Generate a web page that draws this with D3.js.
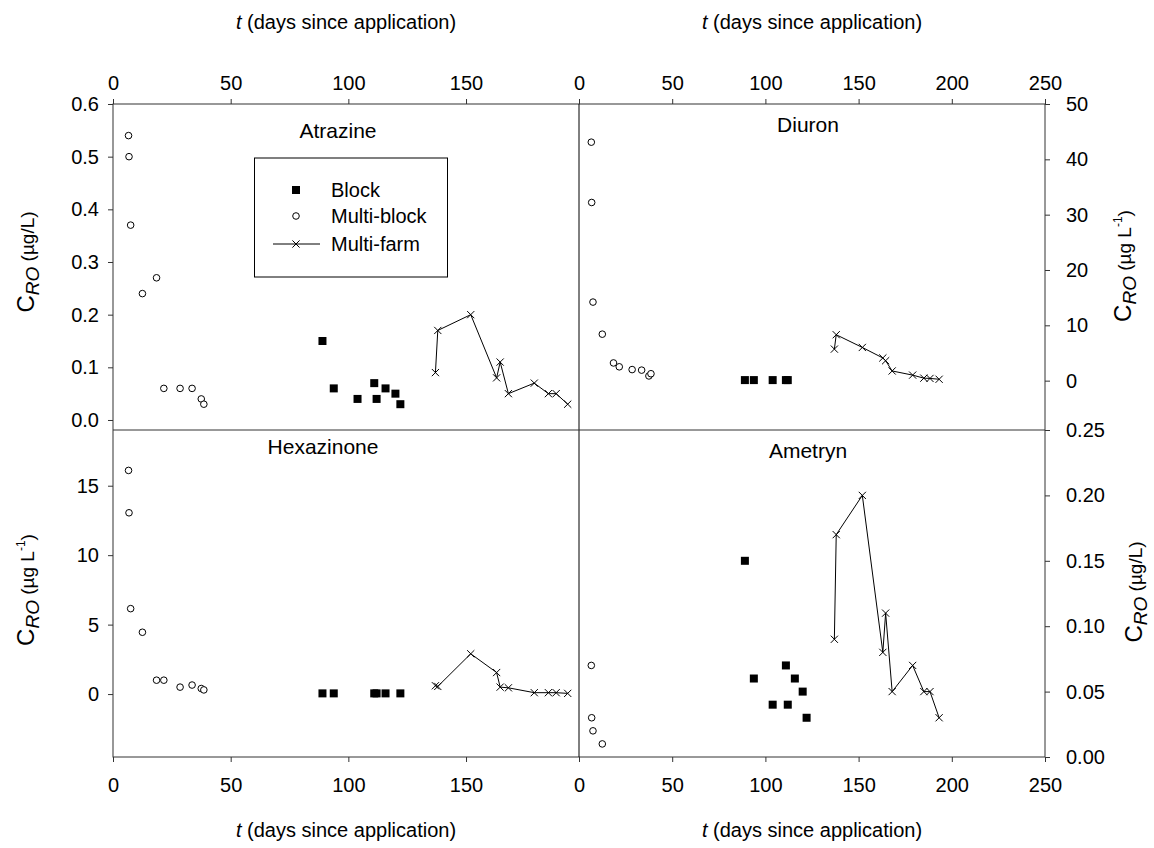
<!DOCTYPE html>
<html>
<head>
<meta charset="utf-8">
<script src="https://cdn.jsdelivr.net/npm/d3@7"></script>
<style>
body { margin: 0; background: #fff; }
text { font-family: "Liberation Sans", Arial, sans-serif; fill: #000; }
</style>
</head>
<body>
<script>
var w = 1154;
var h = 848;

// sampling days (days since application), same for every herbicide
var blockDays      = [89, 93.8, 103.9, 111, 112, 115.8, 120, 122.1];
var multiBlockDays = [6.6, 6.8, 7.5, 12.5, 18.5, 21.6, 28.5, 33.6, 37.5, 38.6];
var multiFarmDays  = [137, 138, 152, 163, 164.5, 168, 179, 185, 188.3, 193.2];

// Atrazine (ug/L)
var atrazineBlock      = [0.15, 0.06, 0.04, 0.07, 0.04, 0.06, 0.05, 0.03];
var atrazineMultiBlock = [0.54, 0.50, 0.37, 0.24, 0.27, 0.06, 0.06, 0.06, 0.04, 0.03];
var atrazineMultiFarm  = [0.09, 0.17, 0.20, 0.08, 0.11, 0.05, 0.07, 0.05, 0.05, 0.03];

// Diuron (ug L-1)
var diuronBlock      = [0.1, 0.1, 0.1, 0.1, 0.1, null, null, null];
var diuronMultiBlock = [43.1, 32.2, 14.2, 8.4, 3.2, 2.5, 2.0, 1.9, 0.85, 1.25];
var diuronMultiFarm  = [5.7, 8.3, 6.0, 4.1, 3.6, 1.75, 1.0, 0.45, 0.4, 0.25];

// Hexazinone (ug L-1)
var hexazinoneBlock      = [0.05, 0.05, null, 0.05, 0.05, 0.05, null, 0.05];
var hexazinoneMultiBlock = [16.1, 13.05, 6.15, 4.45, 1.0, 1.0, 0.5, 0.65, 0.4, 0.3];
var hexazinoneMultiFarm  = [0.6, 0.55, 2.9, 1.55, 0.5, 0.45, 0.1, 0.1, 0.1, 0.05];

// Ametryn (ug/L)
var ametrynBlock      = [0.15, 0.06, 0.04, 0.07, 0.04, 0.06, 0.05, 0.03];
var ametrynMultiBlock = [0.07, 0.03, 0.02, 0.01, null, null, null, null, null, null];
var ametrynMultiFarm  = [0.09, 0.17, 0.20, 0.08, 0.11, 0.05, 0.07, 0.05, 0.05, 0.03];

// tick labels
var leftDayTicks  = [0, 50, 100, 150];
var rightDayTicks = [0, 50, 100, 150, 200, 250];
var atrazineTicks   = [0, 0.1, 0.2, 0.3, 0.4, 0.5, 0.6];
var diuronTicks     = [0, 10, 20, 30, 40, 50];
var hexazinoneTicks = [0, 5, 10, 15];
var ametrynTicks    = [0, 0.05, 0.1, 0.15, 0.2, 0.25];

var legendLabels = ["Block", "Multi-block", "Multi-farm"];

// frame
var x0 = 113, xMid = 579, x1 = 1045;
var y0 = 104, yMid = 430, y1 = 757;
var frameColor = "#333";

var svg = d3.select("body")
            .append("svg")
            .attr("width", w)
            .attr("height", h);

var xLeft  = d3.scaleLinear().domain([0, 198]).range([x0, xMid]);
var xRight = d3.scaleLinear().domain([0, 250]).range([xMid, x1]);

var yAtrazine   = d3.scaleLinear().domain([-0.019, 0.6]).range([yMid, y0]);
var yDiuron     = d3.scaleLinear().domain([-8.92, 50]).range([yMid, y0]);
var yHexazinone = d3.scaleLinear().domain([-4.53, 19.01]).range([y1, yMid]);
var yAmetryn    = d3.scaleLinear().domain([0, 0.25]).range([y1, yMid]);

var panels = [
    {name: "Atrazine", x: xLeft, y: yAtrazine, tx: 338, ty: 138,
     block: atrazineBlock, multiBlock: atrazineMultiBlock, multiFarm: atrazineMultiFarm},
    {name: "Diuron", x: xRight, y: yDiuron, tx: 808, ty: 132,
     block: diuronBlock, multiBlock: diuronMultiBlock, multiFarm: diuronMultiFarm},
    {name: "Hexazinone", x: xLeft, y: yHexazinone, tx: 323, ty: 454,
     block: hexazinoneBlock, multiBlock: hexazinoneMultiBlock, multiFarm: hexazinoneMultiFarm},
    {name: "Ametryn", x: xRight, y: yAmetryn, tx: 808, ty: 458,
     block: ametrynBlock, multiBlock: ametrynMultiBlock, multiFarm: ametrynMultiFarm}
];

var crossPath = "M-3.6,-3.6L3.6,3.6M-3.6,3.6L3.6,-3.6";

// AXES ========================================

function styleAxis(g) {
    g.select(".domain").remove();
    g.selectAll(".tick line").attr("stroke", frameColor);
    g.selectAll(".tick text")
        .attr("font-family", "Liberation Sans, Arial, sans-serif")
        .attr("font-size", "20px")
        .attr("fill", "#000");
}

function addAxis(axis, tx, ty) {
    svg.append("g")
        .attr("transform", "translate(" + tx + "," + ty + ")")
        .call(axis)
        .call(styleAxis);
}

addAxis(d3.axisTop(xLeft).tickValues(leftDayTicks).tickSize(5).tickPadding(9), 0, y0);
addAxis(d3.axisTop(xRight).tickValues(rightDayTicks).tickSize(5).tickPadding(9), 0, y0);
addAxis(d3.axisBottom(xLeft).tickValues(leftDayTicks).tickSize(5).tickPadding(16), 0, y1);
addAxis(d3.axisBottom(xRight).tickValues(rightDayTicks).tickSize(5).tickPadding(16), 0, y1);

addAxis(d3.axisLeft(yAtrazine).tickValues(atrazineTicks).tickFormat(d3.format(".1f"))
    .tickSize(5).tickPadding(9), x0, 0);
addAxis(d3.axisLeft(yHexazinone).tickValues(hexazinoneTicks).tickFormat(d3.format("d"))
    .tickSize(5).tickPadding(9), x0, 0);
addAxis(d3.axisRight(yDiuron).tickValues(diuronTicks).tickFormat(d3.format("d"))
    .tickSize(5).tickPadding(16), x1, 0);
addAxis(d3.axisRight(yAmetryn).tickValues(ametrynTicks).tickFormat(d3.format(".2f"))
    .tickSize(5).tickPadding(16), x1, 0);

// frame lines
svg.append("rect")
    .attr("x", x0).attr("y", y0)
    .attr("width", x1 - x0).attr("height", y1 - y0)
    .attr("fill", "none")
    .attr("stroke", frameColor);
svg.append("line")
    .attr("x1", xMid).attr("x2", xMid).attr("y1", y0).attr("y2", y1)
    .attr("stroke", "#000");
svg.append("line")
    .attr("x1", x0).attr("x2", x1).attr("y1", yMid).attr("y2", yMid)
    .attr("stroke", frameColor);

// DRAWING =====================================

function points(days, values) {
    return days.map(function(d, i) {
        return {t: d, v: values[i]};
    }).filter(function(d) { return d.v != null; });
}

function drawPanel(p) {
    var g = svg.append("g");

    g.append("text")
        .attr("x", p.tx)
        .attr("y", p.ty)
        .attr("text-anchor", "middle")
        .attr("font-size", "21px")
        .text(p.name);

    var farm = points(multiFarmDays, p.multiFarm);
    var line = d3.line()
        .x(function(d) { return p.x(d.t); })
        .y(function(d) { return p.y(d.v); });

    g.append("path")
        .datum(farm)
        .attr("d", line)
        .attr("fill", "none")
        .attr("stroke", "#000")
        .attr("stroke-width", 1);

    g.selectAll("path.farm")
        .data(farm)
        .enter().append("path")
            .attr("class", "farm")
            .attr("d", crossPath)
            .attr("transform", function(d) {
                return "translate(" + p.x(d.t) + "," + p.y(d.v) + ")";
            })
            .attr("stroke", "#000")
            .attr("stroke-width", 1);

    g.selectAll("circle")
        .data(points(multiBlockDays, p.multiBlock))
        .enter().append("circle")
            .attr("cx", function(d) { return p.x(d.t); })
            .attr("cy", function(d) { return p.y(d.v); })
            .attr("r", 3.3)
            .attr("fill", "#fff")
            .attr("stroke", "#000")
            .attr("stroke-width", 1);

    g.selectAll("rect")
        .data(points(blockDays, p.block))
        .enter().append("rect")
            .attr("x", function(d) { return p.x(d.t) - 4; })
            .attr("y", function(d) { return p.y(d.v) - 4; })
            .attr("width", 8)
            .attr("height", 8)
            .attr("fill", "#000");
}

panels.forEach(drawPanel);

// legend
var legend = svg.append("g");
legend.append("rect")
    .attr("x", 254.5).attr("y", 158)
    .attr("width", 193).attr("height", 119)
    .attr("fill", "#fff")
    .attr("stroke", "#000");

var lx = 296, ly = [190, 216, 244];
legend.append("rect")
    .attr("x", lx - 4).attr("y", ly[0] - 4)
    .attr("width", 8).attr("height", 8)
    .attr("fill", "#000");
legend.append("circle")
    .attr("cx", lx).attr("cy", ly[1]).attr("r", 3.3)
    .attr("fill", "#fff").attr("stroke", "#000");
legend.append("line")
    .attr("x1", 273).attr("x2", 320).attr("y1", ly[2]).attr("y2", ly[2])
    .attr("stroke", "#000");
legend.append("path")
    .attr("d", crossPath)
    .attr("transform", "translate(" + lx + "," + ly[2] + ")")
    .attr("stroke", "#000");

legend.selectAll("text")
    .data(legendLabels)
    .enter().append("text")
        .attr("x", 331)
        .attr("y", function(d, i) { return ly[i] + 7; })
        .attr("font-size", "20px")
        .text(function(d) { return d; });

// axis titles
function dayTitle(x, y) {
    var t = svg.append("text")
        .attr("x", x)
        .attr("y", y)
        .attr("text-anchor", "middle")
        .attr("font-size", "20px");
    t.append("tspan").attr("font-style", "italic").text("t");
    t.append("tspan").text(" (days since application)");
}

dayTitle(346, 29);
dayTitle(812, 29);
dayTitle(346, 837);
dayTitle(812, 837);

function concTitle(x, y, perLitre) {
    var t = svg.append("text")
        .attr("transform", "translate(" + x + "," + y + ") rotate(-90)")
        .attr("text-anchor", "middle")
        .attr("font-size", "19px");
    t.append("tspan").attr("font-size", "24px").text("C");
    t.append("tspan").attr("font-style", "italic").attr("dy", 5).text("RO");
    if (perLitre) {
        t.append("tspan").attr("dy", -5).text(" (\u00b5g L");
        t.append("tspan").attr("font-size", "12px").attr("dy", -9).text("-1");
        t.append("tspan").attr("dy", 9).text(")");
    } else {
        t.append("tspan").attr("dy", -5).text(" (\u00b5g/L)");
    }
}

concTitle(34, 262, false);
concTitle(34, 590, true);
concTitle(1131, 266, true);
concTitle(1142, 592, false);
</script>
</body>
</html>
